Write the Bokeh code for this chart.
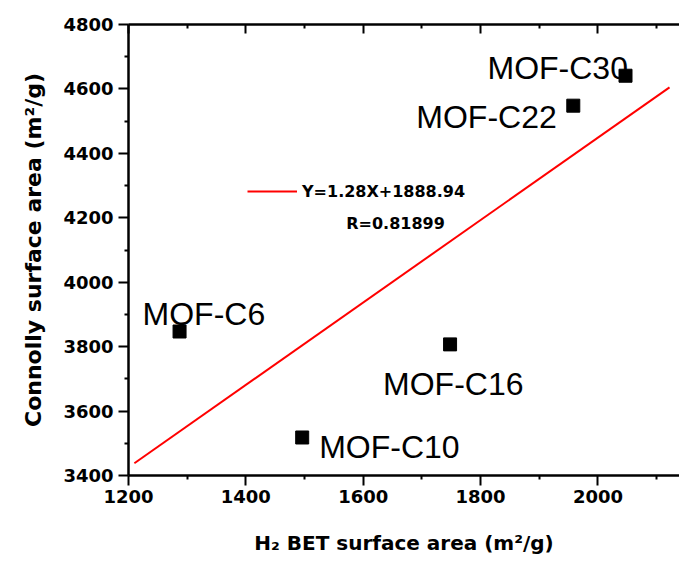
from bokeh.plotting import figure
from bokeh.models import (ColumnDataSource, LinearAxis, FixedTicker, Legend,
                          LegendItem, Label, Range1d)
from bokeh.core.properties import value
from bokeh.embed import file_html
from bokeh.resources import INLINE

# ---- data ----
names = ["MOF-C6", "MOF-C10", "MOF-C16", "MOF-C22", "MOF-C30"]
bet_area = [1287, 1496, 1748, 1958, 2047]
connolly_area = [3847, 3518, 3807, 4548, 4641]

fit_x = [1210, 2122]
fit_y = [3438, 4605]
fit_label = "Y=1.28X+1888.94"
r_label = "R=0.81899"

x_major = [1200, 1400, 1600, 1800, 2000]
x_minor = [1300, 1500, 1700, 1900, 2100]
y_major = [3400, 3600, 3800, 4000, 4200, 4400, 4600, 4800]
y_minor = [3500, 3700, 3900, 4100, 4300, 4500, 4700]

# label offsets (screen px) relative to each point
lab_dx = [-37, 17, -67, -157, -138]
lab_dy = [-18, 10, 40, 11, -8]

BOLD = "DejaVu Sans"

p = figure(width=679, height=566, output_backend="svg", toolbar_location=None,
           x_range=Range1d(1200, 2139), y_range=Range1d(3400, 4800),
           x_axis_location=None, y_axis_location=None,
           min_border_left=128, min_border_right=0, min_border_top=24,
           min_border_bottom=91)
p.outline_line_color = None
p.xgrid.visible = False
p.ygrid.visible = False
p.background_fill_color = "white"
p.border_fill_color = "white"


def style_axis(ax, labels=True):
    ax.axis_line_width = 2.5
    ax.axis_line_color = "black"
    ax.major_tick_line_width = 2
    ax.minor_tick_line_width = 2
    ax.major_tick_line_color = "black"
    ax.minor_tick_line_color = "black"
    ax.major_label_text_font = BOLD
    ax.major_label_text_font_style = "bold"
    ax.major_label_text_font_size = "18px"
    ax.major_label_text_color = "black" if labels else None
    ax.axis_label_text_font = BOLD
    ax.axis_label_text_font_style = "bold"
    ax.axis_label_text_font_size = "20px"
    ax.axis_label_text_color = "black"


xticker = FixedTicker(ticks=x_major, minor_ticks=x_minor)
yticker = FixedTicker(ticks=y_major, minor_ticks=y_minor)

xb = LinearAxis(ticker=xticker, axis_label="H\u2082 BET surface area (m\u00b2/g)")
style_axis(xb)
xb.major_tick_in = 0
xb.major_tick_out = 10
xb.minor_tick_in = 0
xb.minor_tick_out = 4
xb.major_label_standoff = 4
xb.axis_label_standoff = 25
p.add_layout(xb, "below")

xt = LinearAxis(ticker=xticker)
style_axis(xt, labels=False)
xt.major_tick_in = 9
xt.major_tick_out = 0
xt.minor_tick_in = 4
xt.minor_tick_out = 0
xt.major_label_text_font_size = "0px"
p.add_layout(xt, "above")

yl = LinearAxis(ticker=yticker, axis_label="Connolly surface area (m\u00b2/g)")
style_axis(yl)
yl.axis_label_text_font_size = "22px"
yl.major_tick_in = 0
yl.major_tick_out = 10
yl.minor_tick_in = 0
yl.minor_tick_out = 4
yl.major_label_standoff = 5
yl.axis_label_standoff = 14
p.add_layout(yl, "left")

src = ColumnDataSource(dict(x=bet_area, y=connolly_area, name=names,
                            dx=lab_dx, dy=lab_dy))

fit = p.line(fit_x, fit_y, line_color="red", line_width=2)
p.scatter("x", "y", source=src, marker="square", size=13,
          fill_color="black", line_color="black")
p.text("x", "y", text="name", source=src, x_offset="dx", y_offset="dy",
       text_font=value("Liberation Sans"), text_font_size="32px",
       text_align="left", text_baseline="alphabetic", text_color="black")

legend = Legend(items=[LegendItem(label=fit_label, renderers=[fit])],
                location=(119, 274), padding=0, margin=0, spacing=0,
                glyph_width=50, glyph_height=20, label_standoff=5,
                border_line_color=None, background_fill_alpha=0,
                label_text_font=BOLD, label_text_font_style="bold",
                label_text_font_size="16px", label_text_color="black")
p.add_layout(legend, "center")

p.add_layout(Label(x=1571, y=4183, text=r_label, text_font=BOLD,
                   text_font_style="bold", text_font_size="16px",
                   text_baseline="alphabetic", text_color="black"))

open("out.html", "w").write(file_html(p, INLINE))
